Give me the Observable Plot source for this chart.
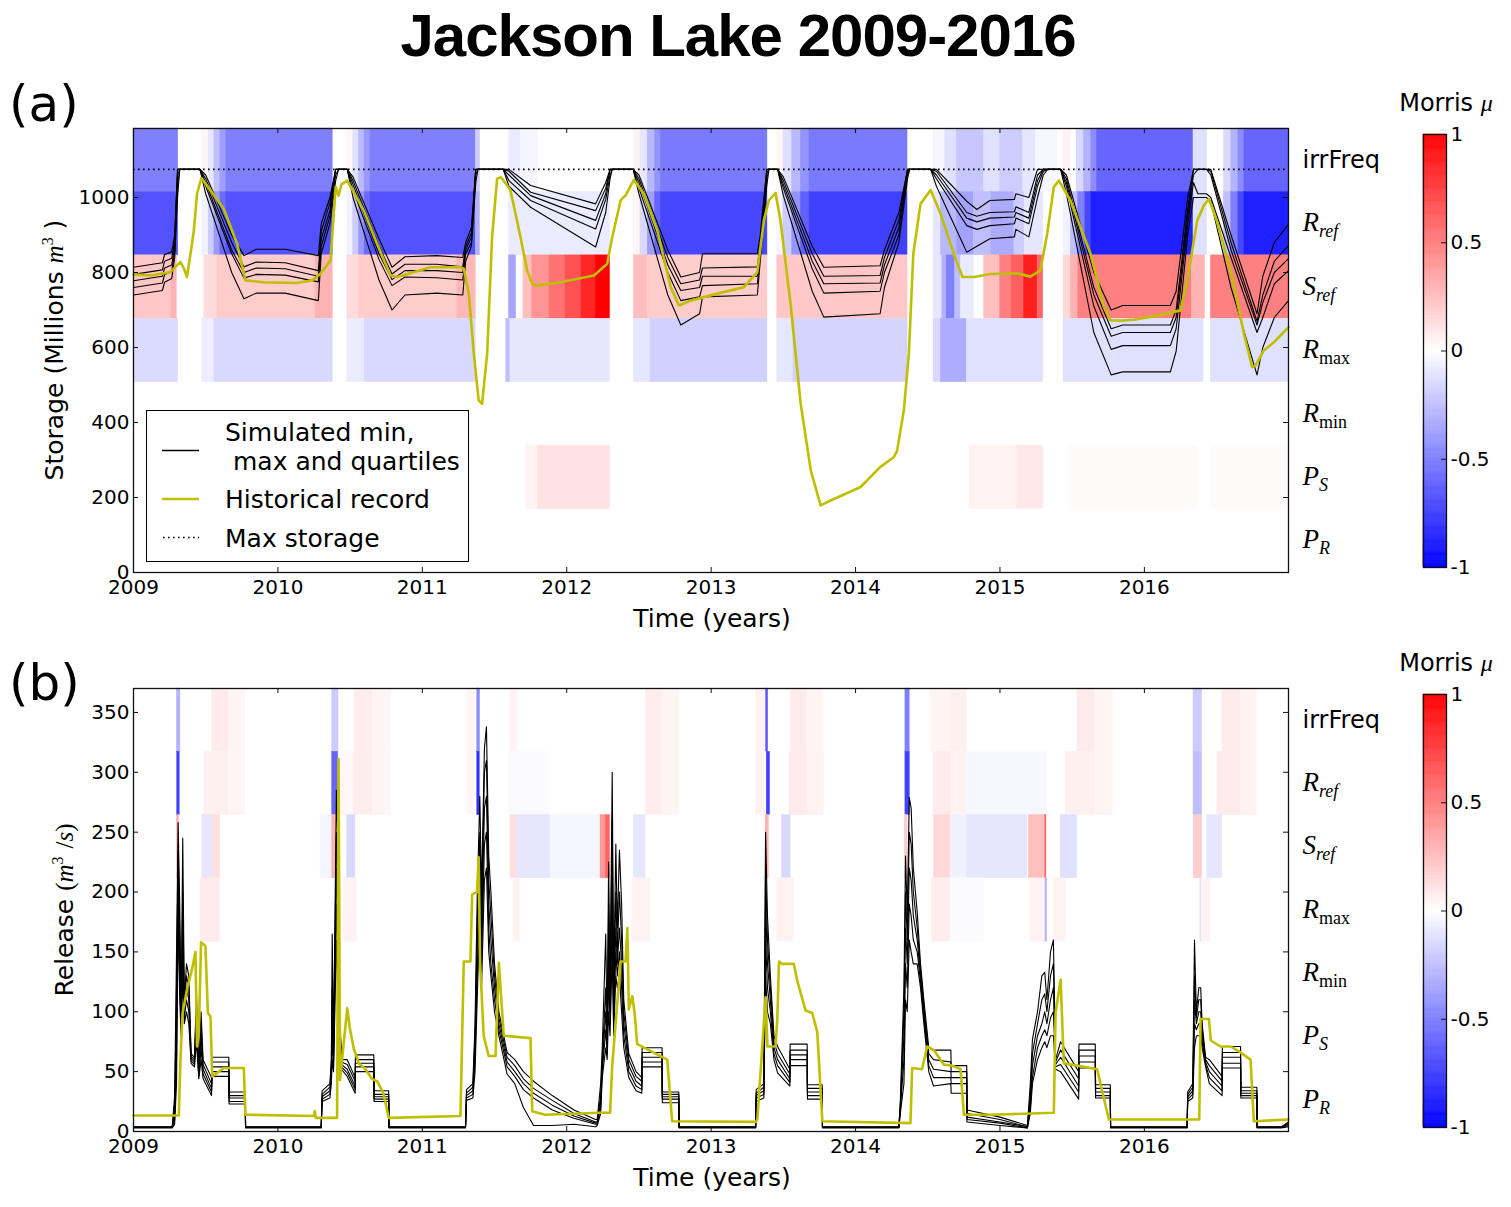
<!DOCTYPE html>
<html><head><meta charset="utf-8">
<script src="https://cdn.jsdelivr.net/npm/d3@7"></script>
<script src="https://cdn.jsdelivr.net/npm/@observablehq/plot@0.6"></script>
<style>
body{margin:0;background:#fff;}
#page{position:relative;width:1511px;height:1207px;font-family:"DejaVu Sans",sans-serif;color:#000;overflow:hidden;background:#fff}
.abs{position:absolute;white-space:nowrap}
.mi{font-family:"Liberation Serif",serif;font-style:italic}
</style></head><body><div id="page"></div>
<script>
// ---------------- DATA ----------------
const years = [2009, 2010, 2011, 2012, 2013, 2014, 2015, 2016];
const storageTicks = [0, 200, 400, 600, 800, 1000];
const releaseTicks = [0, 50, 100, 150, 200, 250, 300, 350];
const colorbarTicks = [-1, -0.5, 0, 0.5, 1];
const rowNames = ["irrFreq", "R_ref", "S_ref", "R_max", "R_min", "P_S", "P_R"];
const maxStorage = 1075;

// Simulated storage (min, quartiles, max), millions m3
const sTime = [2009.000,2009.200,2009.215,2009.265,2009.285,2009.305,2009.320,2009.460,2009.500,2009.680,
2009.765,2009.850,2010.050,2010.280,2010.300,2010.360,2010.400,2010.420,2010.480,2010.520,
2010.700,2010.790,2010.880,2011.100,2011.280,2011.300,2011.340,2011.370,2011.385,2011.560,
2011.600,2011.750,2012.200,2012.270,2012.300,2012.315,2012.460,2012.500,2012.700,2012.790,
2012.920,2012.940,2013.320,2013.340,2013.385,2013.400,2013.460,2013.500,2013.700,2013.780,
2014.170,2014.200,2014.300,2014.360,2014.375,2014.520,2014.560,2014.770,2014.840,2014.930,
2015.100,2015.110,2015.200,2015.260,2015.300,2015.330,2015.420,2015.460,2015.650,2015.770,
2015.850,2016.180,2016.220,2016.300,2016.340,2016.370,2016.430,2016.460,2016.600,2016.780,
2016.820,2016.900,2016.998];
const sMax = [814,826,848,855,900,1075,1075,1075,1060,900,
845,862,862,845,930,1000,1075,1075,1075,1055,
890,814,842,845,840,880,920,1075,1075,1075,
1075,1032,983,1040,1075,1075,1075,1060,860,788,
800,850,850,900,1075,1075,1075,1055,870,814,
818,860,960,1075,1075,1075,1075,990,968,992,
995,1010,1000,1075,1075,1075,1075,1060,800,700,
712,712,750,1000,1075,1075,1075,1075,900,690,
790,880,928];
const sQ3 = [795,807,830,838,885,1075,1075,1075,1050,880,
815,828,826,805,910,985,1075,1075,1075,1045,
870,796,822,822,815,870,905,1075,1075,1075,
1070,1014,965,1025,1075,1075,1075,1050,840,770,
780,812,815,880,1075,1075,1075,1045,850,790,
792,840,940,1075,1075,1075,1070,960,950,960,
962,975,960,1060,1075,1075,1075,1050,760,650,
660,660,700,970,1075,1075,1075,1070,880,670,
740,830,872];
const sMed = [778,790,812,820,870,1060,1075,1075,1040,860,
800,812,810,790,890,965,1075,1075,1075,1035,
850,781,805,805,800,860,895,1075,1075,1075,
1060,1005,939,1010,1075,1075,1075,1040,820,752,
760,790,790,860,1065,1075,1075,1035,830,770,
772,820,920,1070,1075,1075,1060,945,935,945,
948,960,945,1045,1075,1075,1075,1040,740,630,
640,640,680,950,1060,1075,1075,1060,860,660,
720,800,837];
const sQ1 = [760,772,794,803,855,1030,1075,1075,1030,850,
785,795,793,775,870,950,1060,1075,1075,1020,
835,765,788,786,780,850,880,1060,1075,1075,
1045,992,916,995,1060,1075,1075,1025,800,725,
735,765,770,850,1050,1075,1075,1025,810,745,
750,800,900,1060,1075,1075,1050,925,915,925,
930,945,930,1030,1070,1075,1075,1030,710,595,
605,605,650,930,1040,1010,1010,1000,840,640,
680,770,805];
const sMin = [740,752,774,784,840,1000,1075,1075,1010,800,
730,745,745,725,850,930,1045,1075,1075,1000,
780,700,740,745,740,830,870,1040,1075,1075,
1030,974,868,960,1050,1075,1075,1010,740,660,
690,735,740,830,1030,1075,1075,1005,750,681,
690,760,880,1050,1075,1075,1030,854,870,890,
895,915,895,1000,1060,1075,1075,1010,640,527,
535,535,590,900,1000,1000,1000,990,760,527,
600,680,725];

// Historical storage
const hsTime = [2009.000,2009.120,2009.256,2009.290,2009.325,2009.350,2009.370,2009.395,2009.418,2009.440,
2009.470,2009.533,2009.625,2009.718,2009.775,2009.900,2010.130,2010.237,2010.295,2010.364,
2010.400,2010.420,2010.440,2010.480,2010.595,2010.687,2010.780,2010.826,2011.057,2011.264,
2011.287,2011.322,2011.357,2011.390,2011.414,2011.449,2011.483,2011.518,2011.545,2011.610,
2011.680,2011.726,2011.761,2011.796,2011.957,2012.188,2012.280,2012.315,2012.373,2012.390,
2012.407,2012.465,2012.534,2012.627,2012.720,2012.777,2012.857,2012.996,2013.227,2013.320,
2013.365,2013.400,2013.446,2013.480,2013.550,2013.620,2013.690,2013.758,2013.827,2014.035,
2014.170,2014.266,2014.288,2014.334,2014.369,2014.400,2014.450,2014.520,2014.588,2014.680,
2014.740,2014.820,2014.935,2015.120,2015.210,2015.280,2015.327,2015.373,2015.408,2015.488,
2015.627,2015.720,2015.766,2015.858,2015.927,2016.090,2016.250,2016.297,2016.366,2016.412,
2016.447,2016.500,2016.597,2016.690,2016.746,2016.770,2016.827,2016.897,2016.998];
const hsVal = [795,792,801,815,828,810,788,850,912,1010,
1052,1019,970,876,779,774,772,779,797,832,
1028,1005,1035,1045,965,876,792,788,814,814,
810,743,583,459,450,583,894,1050,1054,1020,
894,805,770,765,774,792,823,894,992,1000,
1005,1047,1010,912,761,712,725,739,761,801,
939,992,1012,939,716,450,272,179,192,228,
281,308,325,432,583,850,983,1020,957,850,
788,788,796,798,789,805,903,1028,1045,992,
850,708,672,672,674,685,699,779,939,979,
996,939,805,636,548,552,592,614,654];

// Simulated release (min, quartiles, max), m3/s
const rTime = [2009.000,2009.268,2009.285,2009.298,2009.309,2009.320,2009.330,2009.341,2009.352,2009.367,
2009.383,2009.399,2009.422,2009.436,2009.452,2009.468,2009.482,2009.540,2009.545,2009.660,
2009.662,2009.774,2009.776,2010.300,2010.306,2010.360,2010.370,2010.376,2010.385,2010.405,
2010.415,2010.428,2010.440,2010.480,2010.535,2010.537,2010.664,2010.666,2010.767,2010.769,
2011.299,2011.306,2011.350,2011.365,2011.380,2011.398,2011.410,2011.430,2011.444,2011.460,
2011.475,2011.500,2011.530,2011.587,2011.640,2011.700,2011.770,2011.900,2012.050,2012.200,
2012.211,2012.235,2012.246,2012.270,2012.280,2012.290,2012.300,2012.315,2012.325,2012.340,
2012.350,2012.365,2012.380,2012.395,2012.430,2012.480,2012.520,2012.522,2012.660,2012.662,
2012.776,2012.778,2013.308,2013.312,2013.365,2013.377,2013.390,2013.410,2013.435,2013.460,
2013.545,2013.547,2013.665,2013.667,2013.769,2013.771,2014.300,2014.310,2014.335,2014.346,
2014.358,2014.372,2014.385,2014.400,2014.427,2014.450,2014.473,2014.507,2014.540,2014.660,
2014.662,2014.770,2014.772,2015.000,2015.190,2015.210,2015.225,2015.260,2015.290,2015.310,
2015.325,2015.350,2015.370,2015.385,2015.420,2015.545,2015.547,2015.660,2015.662,2015.764,
2015.766,2016.296,2016.300,2016.335,2016.347,2016.360,2016.377,2016.390,2016.400,2016.424,
2016.450,2016.538,2016.540,2016.666,2016.668,2016.779,2016.781,2016.950,2016.998];
const rMax = [4,4,30,150,258,190,100,245,110,140,
130,65,62,115,52,100,60,45,62,62,
33,33,4,4,34,40,60,165,70,285,
240,100,60,60,45,64,64,34,34,4,
4,35,40,90,195,280,200,320,338,230,
200,140,100,66,60,50,42,30,18,10,
10,40,70,165,80,225,120,300,120,240,
170,235,190,110,65,50,45,70,70,33,
33,4,4,35,40,250,180,130,80,71,
52,73,73,39,39,4,4,25,120,230,
180,279,270,220,183,140,110,70,68,68,
55,55,18,12,5,40,77,100,130,133,
110,150,160,60,75,50,73,73,39,39,
4,4,33,40,160,100,120,120,90,62,
60,46,71,71,37,37,4,4,8];
const rQ3 = [3.8,3.8,22,120,235,170,95,200,105,130,
120,63,60,105,50,90,56,40,58,58,
30,30,3.8,3.8,31,37,55,120,65,250,
200,95,58,56,42,60,60,31,31,3.8,
3.8,32,37,80,170,250,180,300,310,210,
180,130,95,62,55,44,36,26,15,8,
8,30,60,120,75,190,110,260,110,200,
150,200,160,100,60,46,42,66,66,31,
31,3.8,3.8,32,37,220,160,120,75,65,
48,68,68,36,36,3.8,3.8,22,100,200,
160,250,240,200,170,135,105,65,60,58,
50,50,15,10,4,30,65,90,110,115,
100,130,140,58,68,44,68,68,36,36,
3.8,3.8,31,37,130,95,110,110,85,60,
55,42,66,66,34,34,3.8,3.8,7];
const rMed = [3.5,3.5,15,90,215,150,90,170,100,120,
110,61,58,95,48,80,52,36,54,54,
28,28,3.5,3.5,29,34,50,100,60,220,
170,90,56,52,38,57,57,29,29,3.5,
3.5,30,34,70,150,230,160,270,280,190,
160,120,90,58,50,40,32,22,13,7,
7,25,55,100,70,160,100,220,100,170,
140,170,140,90,55,42,38,62,62,29,
29,3.5,3.5,30,34,190,140,110,70,60,
44,64,64,33,33,3.5,3.5,20,80,170,
140,220,210,180,160,130,100,60,52,50,
45,45,12,8,4,25,55,80,90,100,
90,110,120,56,62,38,63,63,33,33,
3.5,3.5,29,34,110,90,100,100,80,58,
50,38,62,62,32,32,3.5,3.5,6];
const rQ1 = [3.3,3.3,10,60,195,130,85,150,95,110,
100,59,56,85,46,70,48,33,50,50,
25,25,3.3,3.3,27,31,45,80,55,190,
140,85,54,49,35,54,54,27,27,3.3,
3.3,28,31,60,130,200,140,240,250,170,
140,110,85,54,46,35,28,18,11,6,
6,20,50,85,65,130,90,180,90,150,
130,150,120,80,50,38,35,58,58,27,
27,3.3,3.3,28,31,160,120,100,65,55,
41,60,60,30,30,3.3,3.3,18,60,140,
120,190,180,160,150,125,95,55,45,45,
40,40,10,7,3,20,45,70,80,85,
80,95,100,54,56,33,58,58,30,30,
3.3,3.3,27,31,90,85,90,90,75,56,
45,34,57,57,30,30,3.3,3.3,5];
const rMin = [3,3,6,40,180,110,80,130,90,100,
90,57,54,75,44,60,44,30,46,46,
23,23,3,3,25,28,40,60,50,160,
110,80,52,46,32,50,50,25,25,3,
3,26,28,50,110,180,120,210,220,150,
130,100,80,48,40,20,5,5,6,4,
5,15,45,70,60,100,80,150,80,130,
120,130,100,70,45,34,32,54,54,24,
24,3,3,25,28,130,100,90,60,49,
38,55,55,27,27,3,3,15,40,110,
100,160,150,140,140,120,90,50,38,40,
32,32,8,5,3,15,40,60,70,75,
70,80,80,52,50,27,53,53,28,28,
3,3,25,28,70,80,80,80,70,54,
40,30,53,53,28,28,3,3,4];

// Historical release
const hrTime = [2009.000,2009.314,2009.325,2009.340,2009.371,2009.406,2009.429,2009.440,2009.452,2009.468,
2009.498,2009.515,2009.533,2009.545,2009.579,2009.625,2009.764,2009.775,2010.249,2010.255,
2010.262,2010.410,2010.420,2010.430,2010.480,2010.500,2010.526,2010.560,2010.607,2010.650,
2010.687,2010.730,2010.768,2011.264,2011.287,2011.333,2011.345,2011.379,2011.390,2011.400,
2011.425,2011.460,2011.507,2011.530,2011.564,2011.749,2011.761,2011.850,2012.230,2012.300,
2012.315,2012.373,2012.407,2012.420,2012.430,2012.454,2012.470,2012.488,2012.696,2012.730,
2013.308,2013.320,2013.377,2013.390,2013.446,2013.458,2013.470,2013.490,2013.573,2013.596,
2013.654,2013.700,2013.735,2013.770,2014.380,2014.392,2014.460,2014.496,2014.542,2014.610,
2014.669,2014.727,2014.750,2014.935,2015.373,2015.385,2015.420,2015.442,2015.535,2015.673,
2015.754,2016.380,2016.389,2016.447,2016.460,2016.527,2016.597,2016.666,2016.735,2016.758,
2016.998];
const hrVal = [13.4,13.4,60,99,119,136,150,71,82,158,
155,99,96,46,49,53,53,14,13,17,
11.4,11.4,311,43,103,85,69,57,52,44,
42,32,11.4,13,142,142,198,200,229,141,
80,63,63,141,80,78,17,14,15.6,15.6,
55,142,142,170,102,113,99,73,60,8.6,
8,10,112,71,71,94,142,140,140,126,
101,99,83,8.6,7,53,52,71,68,56,
55,52,14,14,15.6,99,127,57,55,52,
10,10,94,94,76,71,71,66,60,8.6,
10];

// Morris mu sensitivity of storage: [start, end, mu] per parameter
const sIrrFreq = [[2009.000,2009.310,-0.5],[2009.475,2009.520,0.04],[2009.520,2009.560,-0.1],[2009.560,2009.600,-0.25],[2009.600,2009.640,-0.38],[2009.640,2010.380,-0.5],
[2010.480,2010.520,0.03],[2010.520,2010.560,-0.12],[2010.560,2010.600,-0.27],[2010.600,2010.640,-0.4],[2010.640,2011.370,-0.5],[2011.370,2011.400,-0.2],
[2011.600,2011.680,-0.08],[2011.680,2011.800,-0.04],[2012.465,2012.510,0.05],[2012.510,2012.560,-0.1],[2012.560,2012.610,-0.28],[2012.610,2012.650,-0.42],[2012.650,2013.390,-0.52],
[2013.457,2013.500,0.04],[2013.500,2013.560,-0.12],[2013.560,2013.620,-0.28],[2013.620,2013.680,-0.42],[2013.680,2014.360,-0.52],
[2014.540,2014.620,-0.04],[2014.620,2014.700,-0.12],[2014.700,2014.890,-0.22],[2014.890,2015.000,-0.12],[2015.000,2015.160,-0.2],[2015.160,2015.250,-0.1],[2015.250,2015.400,-0.03],
[2015.440,2015.490,0.05],[2015.530,2015.580,-0.15],[2015.580,2015.630,-0.3],[2015.630,2015.670,-0.45],[2015.670,2016.340,-0.6],[2016.340,2016.435,-0.12],
[2016.550,2016.600,-0.15],[2016.600,2016.650,-0.3],[2016.650,2016.690,-0.45],[2016.690,2016.998,-0.6]];
const sRref = [[2009.000,2009.310,-0.68],[2009.475,2009.520,-0.05],[2009.520,2009.560,-0.2],[2009.560,2009.600,-0.4],[2009.600,2009.640,-0.58],[2009.640,2010.380,-0.68],
[2010.480,2010.520,-0.05],[2010.520,2010.560,-0.2],[2010.560,2010.600,-0.4],[2010.600,2010.640,-0.58],[2010.640,2011.370,-0.68],[2011.370,2011.400,-0.3],
[2011.600,2012.300,-0.08],[2012.465,2012.510,0.04],[2012.510,2012.560,-0.15],[2012.560,2012.610,-0.38],[2012.610,2012.650,-0.6],[2012.650,2013.390,-0.72],
[2013.457,2013.500,-0.04],[2013.500,2013.560,-0.2],[2013.560,2013.620,-0.42],[2013.620,2013.680,-0.62],[2013.680,2014.360,-0.75],
[2014.540,2014.590,-0.1],[2014.590,2014.700,-0.28],[2014.700,2014.820,-0.36],[2014.820,2014.940,-0.25],[2014.940,2015.100,-0.33],[2015.100,2015.170,-0.2],[2015.170,2015.300,-0.1],
[2015.440,2015.490,-0.05],[2015.490,2015.540,-0.25],[2015.540,2015.590,-0.5],[2015.590,2015.630,-0.72],[2015.630,2016.340,-0.88],[2016.340,2016.435,-0.12],
[2016.550,2016.600,-0.25],[2016.600,2016.650,-0.5],[2016.650,2016.690,-0.72],[2016.690,2016.998,-0.88]];
const sSref = [[2009.000,2009.260,0.22],[2009.260,2009.300,0.3],[2009.490,2009.580,0.14],[2009.580,2010.260,0.2],[2010.260,2010.380,0.3],
[2010.480,2010.560,0.14],[2010.560,2011.240,0.2],[2011.240,2011.370,0.28],[2011.600,2011.650,-0.35],
[2011.700,2011.760,0.25],[2011.760,2011.880,0.42],[2011.880,2011.990,0.55],[2011.990,2012.100,0.68],[2012.100,2012.200,0.85],[2012.200,2012.300,1.0],
[2012.465,2012.560,0.26],[2012.560,2013.390,0.2],[2013.457,2014.360,0.22],
[2014.540,2014.600,-0.1],[2014.600,2014.630,-0.3],[2014.630,2014.690,-0.5],[2014.690,2014.730,-0.25],[2014.730,2014.820,-0.08],
[2014.890,2015.000,0.25],[2015.000,2015.080,0.5],[2015.080,2015.165,0.62],[2015.165,2015.260,0.88],[2015.260,2015.300,0.6],
[2015.440,2015.490,0.15],[2015.490,2015.540,0.3],[2015.540,2016.330,0.5],[2016.330,2016.420,0.3],[2016.460,2016.998,0.5]];
const sRmax = [[2009.000,2009.310,-0.14],[2009.475,2009.560,-0.07],[2009.560,2010.380,-0.15],[2010.480,2010.600,-0.08],[2010.600,2011.370,-0.15],
[2011.580,2011.610,-0.25],[2011.610,2012.300,-0.1],[2012.465,2012.580,-0.1],[2012.580,2013.390,-0.18],[2013.457,2013.570,-0.1],[2013.570,2014.360,-0.17],
[2014.540,2014.590,-0.15],[2014.590,2014.770,-0.32],[2014.770,2015.300,-0.12],[2015.440,2016.410,-0.12],[2016.460,2016.998,-0.12]];
const sRmin = [];
const sPS = [[2011.720,2011.800,0.05],[2011.800,2012.300,0.11],[2014.790,2015.120,0.05],[2015.120,2015.300,0.09],[2015.470,2016.370,0.02],[2016.460,2016.998,0.02]];
const sPR = [];

// Morris mu sensitivity of release
const rIrrFreq = [[2009.300,2009.325,-0.3],[2009.545,2009.660,0.08],[2009.660,2009.775,0.04],[2010.375,2010.420,-0.2],[2010.530,2010.660,0.07],[2010.660,2010.780,0.04],
[2011.310,2011.360,0.04],[2011.380,2011.400,-0.45],[2011.610,2011.660,0.05],[2012.550,2012.660,0.07],[2012.660,2012.780,0.04],
[2013.310,2013.380,0.05],[2013.380,2013.395,-0.65],[2013.550,2013.665,0.08],[2013.665,2013.780,0.04],[2014.345,2014.375,-0.5],
[2014.520,2014.660,0.04],[2014.660,2014.770,0.06],[2015.535,2015.660,0.08],[2015.660,2015.780,0.04],[2016.340,2016.400,-0.2],[2016.540,2016.666,0.08],[2016.666,2016.780,0.05]];
const rRref = [[2009.302,2009.320,-0.75],[2009.490,2009.660,0.06],[2009.660,2009.775,0.04],[2010.375,2010.420,-0.6],[2010.420,2010.530,0.03],[2010.530,2010.660,0.07],[2010.660,2010.780,0.04],
[2011.310,2011.360,0.04],[2011.380,2011.398,-0.8],[2011.600,2011.880,-0.02],[2012.550,2012.660,0.07],[2012.660,2012.780,0.04],
[2013.310,2013.380,0.05],[2013.385,2013.408,-0.75],[2013.540,2013.665,0.08],[2013.665,2013.780,0.05],[2014.345,2014.376,-0.75],
[2014.540,2014.660,0.08],[2014.660,2014.770,0.05],[2014.770,2015.330,-0.03],[2015.455,2015.660,0.06],[2015.660,2015.780,0.04],
[2016.340,2016.400,-0.25],[2016.505,2016.666,0.08],[2016.666,2016.780,0.05]];
const rSref = [[2009.302,2009.314,0.35],[2009.475,2009.545,-0.1],[2009.545,2009.600,0.12],[2010.295,2010.375,-0.04],[2010.375,2010.410,0.3],[2010.480,2010.537,-0.15],
[2011.610,2011.657,0.13],[2011.657,2011.888,-0.1],[2011.888,2012.234,-0.04],[2012.234,2012.270,0.4],[2012.270,2012.300,0.6],[2012.465,2012.546,-0.1],
[2013.377,2013.400,0.3],[2013.490,2013.550,-0.15],[2014.340,2014.360,0.2],[2014.542,2014.657,0.15],[2014.657,2014.773,-0.06],[2014.773,2015.190,-0.1],
[2015.200,2015.313,0.25],[2015.313,2015.322,0.6],[2015.420,2015.535,-0.12],[2016.342,2016.400,0.2],[2016.435,2016.540,-0.1]];
const rRmax = [[2009.464,2009.600,0.08],[2010.456,2010.550,0.05],[2011.634,2011.680,0.05],[2012.454,2012.580,0.05],[2013.457,2013.573,0.05],
[2014.530,2014.657,0.07],[2014.657,2014.890,-0.02],[2015.210,2015.315,0.05],[2015.315,2015.327,-0.3],[2015.373,2015.455,0.05],
[2016.388,2016.395,-0.15],[2016.395,2016.458,0.05]];
const rRmin = [];
const rPS = [];
const rPR = [];

// ---------------- BUILD ----------------
const colorOpts = {type: "linear", domain: [-1, 0, 1], range: ["#0000ff", "#ffffff", "#ff0000"], interpolate: "rgb"};
const page = document.getElementById("page");
function addDiv(html, style) {
  const d = document.createElement("div");
  d.className = "abs"; d.innerHTML = html;
  Object.assign(d.style, style);
  page.appendChild(d); return d;
}
function bandData(rows, ymax) {
  const out = [];
  rows.forEach((segs, i) => segs.forEach(([t0, t1, mu]) =>
    out.push({t0, t1, mu, y1: ymax * (6 - i) / 7, y2: ymax * (7 - i) / 7})));
  return out;
}
function labelData(ymax) { return rowNames.map((name, i) => ({name, y: ymax * (6.5 - i) / 7})); }
function simData(time, series) {
  const out = [];
  series.forEach(([s, vals]) => vals.forEach((v, i) => out.push({t: time[i], v, s})));
  return out;
}
function seriesData(time, vals) { return vals.map((v, i) => ({t: time[i], v})); }

const mathLabels = {
  "R_ref": ["R", "ref", true], "S_ref": ["S", "ref", true], "R_max": ["R", "max", false],
  "R_min": ["R", "min", false], "P_S": ["P", "S", true], "P_R": ["P", "R", true]
};
function fixLabels(svg) {
  d3.select(svg).selectAll("text").each(function () {
    const m = mathLabels[this.textContent];
    if (!m) return;
    const t = d3.select(this).text(null);
    t.append("tspan").attr("font-family", "'Liberation Serif', serif").attr("font-style", "italic").attr("font-size", 27).text(m[0]);
    t.append("tspan").attr("font-family", "'Liberation Serif', serif").attr("font-style", m[2] ? "italic" : "normal").attr("font-size", 18).attr("dy", 6).text(m[1]);
  });
}

function panel({top, height, mT, mB, ymax, yTicks, bands, sims, hist, maxLine}) {
  const W = 1400, mL = 133, mR = 112;
  const fw = W - mL - mR, fh = height - mT - mB;
  const marks = [
    Plot.rect(bands, {x1: "t0", x2: "t1", y1: "y1", y2: "y2", fill: "mu", stroke: "mu", strokeWidth: 0.4}),
  ];
  if (maxLine != null) marks.push(Plot.ruleY([maxLine], {stroke: "#000", strokeWidth: 1.6, strokeDasharray: "1.6,3.4"}));
  marks.push(
    Plot.line(sims, {x: "t", y: "v", z: "s", stroke: "#000", strokeWidth: 1.1}),
    Plot.line(hist, {x: "t", y: "v", stroke: "#bfbf00", strokeWidth: 2.6}),
    Plot.frame({stroke: "#111", strokeWidth: 1.3}),
    Plot.tickX(years, {insetTop: fh - 5, stroke: "#111"}),
    Plot.tickX(years, {insetBottom: fh - 5, stroke: "#111"}),
    Plot.tickY(yTicks, {insetRight: fw - 5, stroke: "#111"}),
    Plot.tickY(yTicks, {insetLeft: fw - 5, stroke: "#111"}),
    Plot.axisX(years, {tickSize: 0, tickPadding: 7, tickFormat: d => String(d), label: null}),
    Plot.axisY(yTicks, {tickSize: 0, tickPadding: 4, tickFormat: d => String(d), label: null}),
    Plot.text(labelData(ymax), {y: "y", text: "name", frameAnchor: "right", dx: 14, textAnchor: "start", fontSize: 24})
  );
  const svg = Plot.plot({
    width: W, height, marginLeft: mL, marginRight: mR, marginTop: mT, marginBottom: mB,
    style: {fontFamily: "'DejaVu Sans', sans-serif", fontSize: "20px", background: "transparent", overflow: "visible", color: "#000"},
    x: {domain: [2009, 2016.998], axis: null},
    y: {domain: [0, ymax], axis: null},
    color: colorOpts,
    marks
  });
  fixLabels(svg);
  const wrap = addDiv("", {left: "0px", top: top + "px"});
  wrap.appendChild(svg);
}

function colorbar(top) {
  const step = 0.005;
  const stops = d3.range(-1, 1, step);
  const svg = Plot.plot({
    width: 111, height: 457, marginLeft: 23, marginRight: 65, marginTop: 12, marginBottom: 12,
    style: {fontFamily: "'DejaVu Sans', sans-serif", fontSize: "20px", background: "transparent", overflow: "visible", color: "#000"},
    y: {domain: [-1, 1], axis: null},
    color: colorOpts,
    marks: [
      Plot.rect(stops, {y1: d => d, y2: d => d + step, fill: d => d + step / 2, stroke: d => d + step / 2, strokeWidth: 0.6}),
      Plot.frame({stroke: "#111", strokeWidth: 1.3}),
      Plot.tickY(colorbarTicks, {insetLeft: 18, stroke: "#111"}),
      Plot.axisY(colorbarTicks, {anchor: "right", tickSize: 0, tickPadding: 4, tickFormat: d => String(d), label: null})
    ]
  });
  const wrap = addDiv("", {left: "1400px", top: top + "px"});
  wrap.appendChild(svg);
}

// Title and panel letters
addDiv("Jackson Lake 2009-2016", {left: "738px", top: "35px", transform: "translate(-50%,-50%)",
  font: "bold 60px 'Liberation Sans', Arial, sans-serif", letterSpacing: "-1px"});
addDiv("(a)", {left: "9px", top: "104px", transform: "translateY(-50%)", fontSize: "50px"});
addDiv("(b)", {left: "9px", top: "683px", transform: "translateY(-50%)", fontSize: "50px"});

// Panel (a): storage
panel({top: 100, height: 500, mT: 28, mB: 28, ymax: 1184, yTicks: storageTicks,
  bands: bandData([sIrrFreq, sRref, sSref, sRmax, sRmin, sPS, sPR], 1184),
  sims: simData(sTime, [["max", sMax], ["q3", sQ3], ["med", sMed], ["q1", sQ1], ["min", sMin]]),
  hist: seriesData(hsTime, hsVal), maxLine: maxStorage});
// Panel (b): release
panel({top: 660, height: 500, mT: 28, mB: 29, ymax: 370, yTicks: releaseTicks,
  bands: bandData([rIrrFreq, rRref, rSref, rRmax, rRmin, rPS, rPR], 370),
  sims: simData(rTime, [["max", rMax], ["q3", rQ3], ["med", rMed], ["q1", rQ1], ["min", rMin]]),
  hist: seriesData(hrTime, hrVal), maxLine: null});

colorbar(122);
colorbar(682);

// Axis titles
addDiv("Time (years)", {left: "712px", top: "618px", transform: "translate(-50%,-50%)", fontSize: "25px"});
addDiv("Time (years)", {left: "712px", top: "1177px", transform: "translate(-50%,-50%)", fontSize: "25px"});
addDiv('Storage (Millions <span class="mi">m</span><sup style="font-family:\'Liberation Serif\',serif;font-size:16px">3</sup> )',
  {left: "54px", top: "350px", transform: "translate(-50%,-50%) rotate(-90deg)", fontSize: "25px"});
addDiv('Release <span style="font-family:\'Liberation Serif\',serif">(</span><span class="mi">m</span><sup style="font-family:\'Liberation Serif\',serif;font-size:16px">3</sup> <span style="font-family:\'Liberation Serif\',serif">/</span><span class="mi">s</span><span style="font-family:\'Liberation Serif\',serif">)</span>',
  {left: "64px", top: "910px", transform: "translate(-50%,-50%) rotate(-90deg)", fontSize: "25px"});
addDiv('Morris <span class="mi">μ</span>', {left: "1446px", top: "103px", transform: "translate(-50%,-50%)", fontSize: "24px"});
addDiv('Morris <span class="mi">μ</span>', {left: "1446px", top: "663px", transform: "translate(-50%,-50%)", fontSize: "24px"});

// Legend
addDiv(`<svg width="323" height="152" style="position:absolute;left:0;top:0">
<rect x="0.5" y="0.5" width="322" height="151" fill="#fff" stroke="#000" stroke-width="1"/>
<line x1="16" x2="53" y1="40.5" y2="40.5" stroke="#000" stroke-width="1.3"/>
<line x1="16" x2="53" y1="89" y2="89" stroke="#bfbf00" stroke-width="2.6"/>
<line x1="17" x2="53" y1="127.5" y2="127.5" stroke="#000" stroke-width="1.6" stroke-dasharray="1.6,3.4"/>
</svg>`, {left: "146px", top: "410px", width: "323px", height: "152px"});
addDiv("Simulated min,", {left: "225px", top: "432px", transform: "translateY(-50%)", fontSize: "25px"});
addDiv("max and quartiles", {left: "233px", top: "461px", transform: "translateY(-50%)", fontSize: "25px"});
addDiv("Historical record", {left: "225px", top: "499px", transform: "translateY(-50%)", fontSize: "25px"});
addDiv("Max storage", {left: "225px", top: "538px", transform: "translateY(-50%)", fontSize: "25px"});
</script></body></html>
